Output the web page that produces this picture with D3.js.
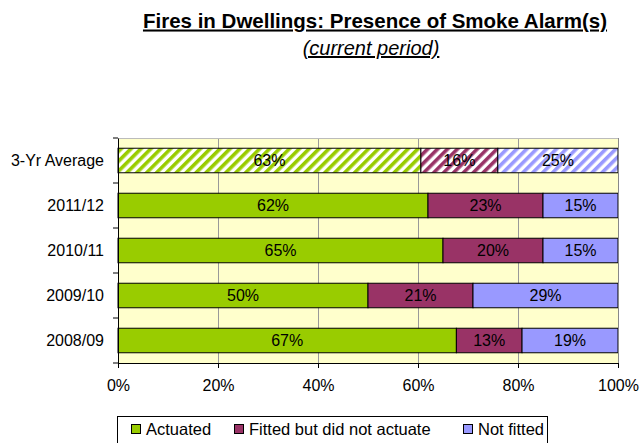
<!DOCTYPE html>
<html><head><meta charset="utf-8">
<script src="https://cdn.jsdelivr.net/npm/d3@7"></script>
<style>
body{margin:0;background:#fff;}
svg{font-family:"Liberation Sans",Arial,sans-serif;}
</style></head>
<body><svg id="c" width="641" height="443"></svg>
<script>
const categories = ["3-Yr Average","2011/12","2010/11","2009/10","2008/09"];
const actuated = [0.63,0.62,0.65,0.50,0.67];
const fittedNotActuate = [0.16,0.23,0.20,0.21,0.13];
const notFitted = [0.25,0.15,0.15,0.29,0.19];
const seriesNames = ["Actuated","Fitted but did not actuate","Not fitted"];
const colors = ["#99CC00","#993366","#9999FF"];
const xTicks = [0,0.2,0.4,0.6,0.8,1.0];

const svg = d3.select("#c");
const FONT = "Liberation Sans, Arial, sans-serif";
const margin = {left:118, right:23, top:138, bottom:80};
const W = 641, H = 443;
const pw = W - margin.left - margin.right, ph = H - margin.top - margin.bottom;

const x = d3.scaleLinear().domain([0,1]).range([margin.left, margin.left+pw]);
const y = d3.scaleBand().domain(categories).range([margin.top, margin.top+ph]).paddingInner(0.455).paddingOuter(0.2275);

// hatch patterns
const defs = svg.append("defs");
colors.forEach((c,i)=>{
  const p = defs.append("pattern").attr("id","hatch"+i).attr("patternUnits","userSpaceOnUse")
    .attr("width",7).attr("height",7).attr("patternTransform","rotate(45)");
  p.append("rect").attr("width",7).attr("height",7).attr("fill","#fff");
  p.append("rect").attr("width",3.6).attr("height",7).attr("fill",c);
});

// title
svg.append("text").attr("x",375).attr("y",27.5).attr("text-anchor","middle")
  .attr("font-size",20.5).attr("font-weight","bold").attr("text-decoration","underline")
  .text("Fires in Dwellings: Presence of Smoke Alarm(s)");
svg.append("text").attr("x",371).attr("y",55).attr("text-anchor","middle")
  .attr("font-size",20).attr("font-style","italic").attr("text-decoration","underline")
  .text("(current period)");

// plot bg
svg.append("rect").attr("x",margin.left).attr("y",margin.top).attr("width",pw).attr("height",ph).attr("fill","#FFFFCC");
// gridlines
svg.append("g").selectAll("line").data(xTicks.slice(1)).join("line")
  .attr("x1",d=>x(d)+0.5).attr("x2",d=>x(d)+0.5).attr("y1",margin.top).attr("y2",margin.top+ph)
  .attr("stroke","#999").attr("stroke-width",1);
svg.append("line").attr("x1",margin.left).attr("x2",margin.left+pw).attr("y1",margin.top+0.5).attr("y2",margin.top+0.5)
  .attr("stroke","#bbb");

// bars (100% stacked)
const rows = categories.map((c,i)=>{
  const vals=[actuated[i],fittedNotActuate[i],notFitted[i]];
  const tot=d3.sum(vals);
  let acc=0;
  return vals.map((v,j)=>{const s={cat:c,idx:i,j,v,x0:acc/tot,x1:(acc+v)/tot}; acc+=v; return s;});
});
const segs = rows.flat();
const g = svg.append("g");
g.selectAll("rect").data(segs).join("rect")
  .attr("x",d=>x(d.x0)).attr("width",d=>x(d.x1)-x(d.x0))
  .attr("y",d=>y(d.cat)).attr("height",y.bandwidth())
  .attr("fill",d=>d.idx===0?`url(#hatch${d.j})`:colors[d.j])
  .attr("stroke","#000").attr("stroke-width",1);
g.selectAll("text").data(segs).join("text")
  .attr("x",d=>(x(d.x0)+x(d.x1))/2).attr("y",d=>y(d.cat)+y.bandwidth()/2)
  .attr("dy","0.36em").attr("text-anchor","middle").attr("font-size",16).attr("fill","#000")
  .text(d=>Math.round(d.v*100)+"%");

// axes
const xAxis = d3.axisBottom(x).tickValues(xTicks).tickFormat(d3.format(".0%")).tickSize(5).tickPadding(12);
const xa = svg.append("g").attr("transform",`translate(0,${margin.top+ph})`).call(xAxis);
xa.select(".domain").attr("stroke","#000");
xa.selectAll("text").attr("font-size",16).attr("font-family",FONT).attr("fill","#000");

const yAxis = d3.axisLeft(y).tickSize(0).tickPadding(14);
const ya = svg.append("g").attr("transform",`translate(${margin.left},0)`).call(yAxis);
ya.select(".domain").attr("stroke","#000");
ya.selectAll("text").attr("font-size",16).attr("font-family",FONT).attr("fill","#000");
const step = ph/categories.length;
const bounds = d3.range(categories.length+1).map(i=>margin.top+i*step);
ya.selectAll(".bt").data(bounds).join("line").attr("class","bt")
  .attr("x1",-5).attr("x2",0).attr("y1",d=>d).attr("y2",d=>d).attr("stroke","#000");
// right border
svg.append("line").attr("x1",x(1)+0.5).attr("x2",x(1)+0.5).attr("y1",margin.top).attr("y2",margin.top+ph).attr("stroke","#888");

// legend
const lg = svg.append("g");
lg.append("rect").attr("x",117.5).attr("y",416.5).attr("width",430).attr("height",40).attr("fill","#fff").attr("stroke","#000");
const lx = [131,234,463];
seriesNames.forEach((n,i)=>{
  lg.append("rect").attr("x",lx[i]+0.5).attr("y",424.5).attr("width",9).attr("height",9).attr("fill",colors[i]).attr("stroke","#000");
  lg.append("text").attr("x",lx[i]+15).attr("y",435).attr("font-size",16.5).text(n);
});
</script></body></html>
